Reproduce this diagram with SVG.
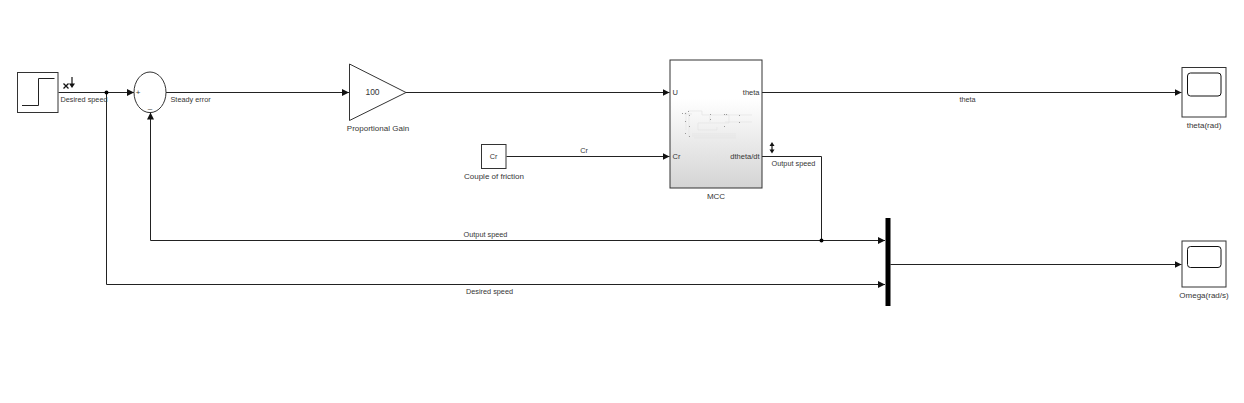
<svg xmlns="http://www.w3.org/2000/svg" width="1244" height="403" viewBox="0 0 1244 403">
<style>
text{font-family:"Liberation Sans",Arial,sans-serif;font-size:7.3px;fill:#333;text-anchor:middle;opacity:.98}
.b{fill:#fff;stroke:#333;stroke-width:1}
.w{fill:none;stroke:#222;stroke-width:1}
.f{fill:none;stroke:#e4e4e4;stroke-width:.7}
.d{fill:#999}
.l{text-anchor:start}.r{text-anchor:end}
.n{font-size:8px}
.p{font-size:7.500px}
</style>
<defs>
<marker id="a" markerUnits="userSpaceOnUse" markerWidth="9" markerHeight="9" refX="7" refY="3.500" orient="auto"><path d="M0 0L7 3.500L0 7Z" fill="#111"/></marker>
<linearGradient id="g" x1="0" y1="0" x2="0" y2="1"><stop offset=".3" stop-color="#fff"/><stop offset="1" stop-color="#d4d4d4"/></linearGradient>
</defs>
<rect width="1244" height="403" fill="#fff"/>
<g id="connectors">
<path class="w" marker-end="url(#a)" d="M58.500 92.500H134"/>
<path class="w" marker-end="url(#a)" d="M166 92.500H349"/>
<path class="w" marker-end="url(#a)" d="M406 92.500H669.500"/>
<path class="w" marker-end="url(#a)" d="M506.500 156.500H669.500"/>
<path class="w" marker-end="url(#a)" d="M762 92.500H1181.500"/>
<path class="w" marker-end="url(#a)" d="M762 156.500H821.500V240.500H885"/>
<path class="w" marker-end="url(#a)" d="M821.500 240.500H150.500V112.500"/>
<path class="w" marker-end="url(#a)" d="M106.500 92.500V284.500H885"/>
<path class="w" marker-end="url(#a)" d="M890.500 264.500H1181.500"/>
<circle cx="106.500" cy="92.500" r="2" fill="#000"/>
<circle cx="821.500" cy="240.500" r="2" fill="#000"/>
<text x="84" y="102">Desired speed</text>
<text class="l" x="170.500" y="102">Steady error</text>
<text x="584" y="153">Cr</text>
<text x="967.500" y="102">theta</text>
<text x="793.500" y="166">Output speed</text>
<text x="485.500" y="237">Output speed</text>
<text x="489.500" y="294">Desired speed</text>
<path fill="none" stroke="#111" stroke-width="1.300" d="M63.500 83.500L68.500 88.500M68.500 83.500L63.500 88.500"/>
<path fill="none" stroke="#111" stroke-width="1.200" d="M72 77V85"/>
<path fill="#111" d="M69 83.500H75L72 88Z"/>
<path fill="none" stroke="#111" stroke-width="1.200" d="M772 144V150"/>
<path fill="#111" d="M769.500 146H774.500L772 142Z M769.500 149.500H774.500L772 153.500Z"/>
</g>
<g id="step">
<rect class="b" x="17.500" y="72.500" width="40.500" height="40"/>
<path class="w" d="M22 105.500H38.500V78.500H54.500"/>
</g>
<g id="sum">
<ellipse class="b" cx="150" cy="92.300" rx="16" ry="20.300"/>
<text x="138" y="94.500" style="font-size:8px">+</text>
<text x="150" y="111" style="font-size:8px">–</text>
</g>
<g id="gain">
<path class="b" d="M349.500 64L406 92.500L349.500 120.500Z"/>
<text x="372.500" y="95" style="font-size:8.500px">100</text>
<text x="378" y="131" class="n">Proportional Gain</text>
</g>
<g id="constant">
<rect class="b" x="481.500" y="144.500" width="24.500" height="24"/>
<text x="493.500" y="158.500">Cr</text>
<text x="494" y="179" class="n">Couple of friction</text>
</g>
<g id="mcc">
<rect x="670" y="60" width="92" height="128" fill="url(#g)" stroke="#333" stroke-width="1"/>
<path class="f" d="M684 114H692M686 112V130M688 111H702V115H729V123H698V130H717V127M689 113V137M692 136H736M692 134H736M694 138H736M710 116V122M725 115H752M725 122H752"/>
<g class="d"><rect x="682" y="113" width="1" height="1"/><rect x="685" y="113" width="1" height="1"/><rect x="688" y="111" width="1" height="1"/><rect x="689" y="115" width="1" height="1"/><rect x="685" y="121" width="1" height="1"/><rect x="689" y="126" width="1" height="1"/><rect x="685" y="133" width="1" height="1"/><rect x="689" y="136" width="1" height="1"/><rect x="710" y="114" width="1" height="1"/><rect x="710" y="119" width="1" height="1"/><rect x="724" y="114" width="1" height="1"/><rect x="726" y="114" width="1" height="1"/><rect x="724" y="126" width="1" height="1"/><rect x="739" y="115" width="1" height="1"/><rect x="739" y="122" width="1" height="1"/></g>
<text class="l p" x="672.500" y="95">U</text>
<text class="l p" x="672.500" y="159">Cr</text>
<text class="r p" x="759.500" y="95">theta</text>
<text class="r p" x="759.500" y="159">dtheta/dt</text>
<text x="716" y="199" class="n">MCC</text>
</g>
<g id="mux"><rect x="885.500" y="218" width="5" height="88" fill="#000"/></g>
<g id="scope-theta">
<rect class="b" x="1182" y="67.500" width="44" height="49.500"/>
<rect x="1187.500" y="73" width="33.500" height="23" rx="3" fill="#fff" stroke="#111"/>
<text x="1204" y="128" class="n">theta(rad)</text>
</g>
<g id="scope-omega">
<rect class="b" x="1182" y="241" width="44" height="46"/>
<rect x="1187.500" y="246.500" width="33.500" height="21" rx="3" fill="#fff" stroke="#111"/>
<text x="1204" y="298" class="n">Omega(rad/s)</text>
</g>
</svg>
